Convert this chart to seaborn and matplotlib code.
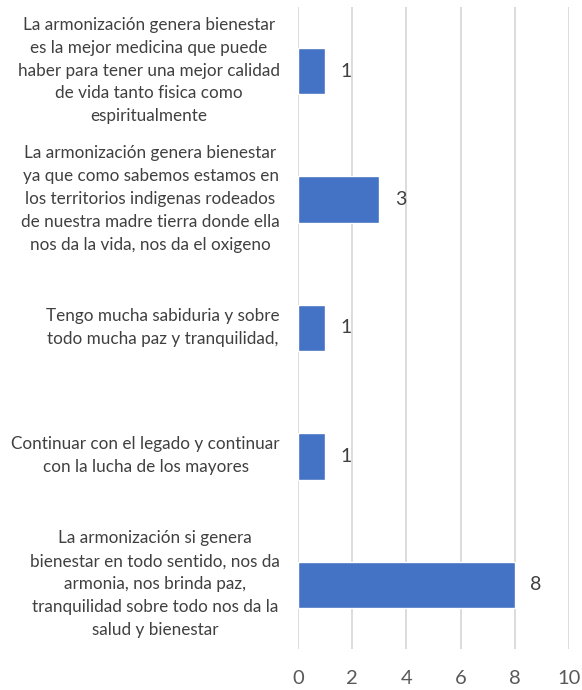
import matplotlib
matplotlib.use("Agg")
import matplotlib.pyplot as plt
import matplotlib.transforms as mtransforms
import seaborn as sns
import pandas as pd

categories = [
    "La armonización genera bienestar\nes la mejor medicina que puede\nhaber para tener una mejor calidad\nde vida tanto fisica como\nespiritualmente",
    "La armonización genera bienestar\nya que como sabemos estamos en\nlos territorios indigenas rodeados\nde nuestra madre tierra donde ella\nnos da la vida, nos da el oxigeno",
    "Tengo mucha sabiduria y sobre\ntodo mucha paz y tranquilidad,",
    "Continuar con el legado y continuar\ncon la lucha de los mayores",
    "La armonización si genera\nbienestar en todo sentido, nos da\narmonia, nos brinda paz,\ntranquilidad sobre todo nos da la\nsalud y bienestar",
]
values = [1, 3, 1, 1, 8]
xticks = [0, 2, 4, 6, 8, 10]

sns.set_theme(style="white")
plt.rcParams['font.family'] = ['Lato', 'DejaVu Sans']

df = pd.DataFrame({"cat": categories, "val": values})

fig = plt.figure(figsize=(5.82, 6.90), dpi=100)
ax = fig.add_axes([0.512, 0.0594, 0.466, 0.9305])
sns.barplot(data=df, y="cat", x="val", orient="h", color="#4472C4",
            width=0.36, ax=ax, saturation=1)
ax.set_xlim(0, 10)
ax.set_ylim(4.5, -0.5)
ax.set_xticks(xticks)
ax.set_xticklabels([str(t) for t in xticks])
ax.set_xlabel("")
ax.set_ylabel("")
ax.grid(axis="x", color="#D9D9D9", linewidth=1.3)
ax.set_axisbelow(True)
for s in ax.spines.values():
    s.set_visible(False)
ax.tick_params(axis="x", length=0, pad=15, labelsize=14.5, labelcolor="#595959")
ax.tick_params(axis="y", length=0, pad=13, labelsize=12.3, labelcolor="#404040")
shift = mtransforms.ScaledTranslation(0, 4 / 72, fig.dpi_scale_trans)
for lab in ax.get_yticklabels():
    lab.set_multialignment("center")
    lab.set_linespacing(1.53)
    lab.set_transform(lab.get_transform() + shift)
for i, v in enumerate(values):
    ax.text(v + 0.78, i, str(v), va="center", ha="center", fontsize=14, color="#404040")

fig.savefig("out.png", dpi=100)
